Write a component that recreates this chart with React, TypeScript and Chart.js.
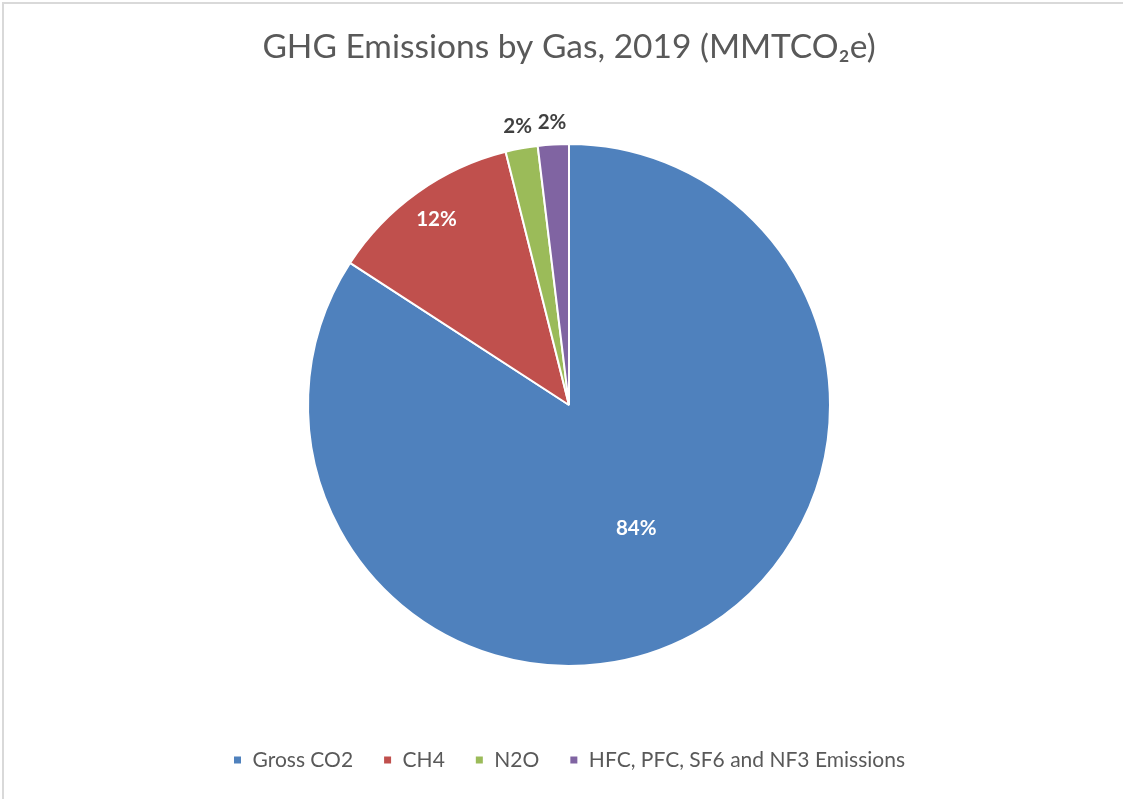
import React, { useEffect, useRef } from "react";
import { Chart, registerables } from "chart.js";

Chart.register(...registerables);

const categories = ["Gross CO2", "CH4", "N2O", "HFC, PFC, SF6 and NF3 Emissions"];
const emissions = [55.0, 7.8, 1.3, 1.25];
const sliceColors = ["#4F81BD", "#C0504D", "#9BBB59", "#8064A2"];
const labelColors = ["#FFFFFF", "#FFFFFF", "#404040", "#404040"];
const labelRadiusFactors = [0.54, 0.874, 1.084, 1.084];
const chartTitle = "GHG Emissions by Gas, 2019 (MMTCO\u2082e)";

const FONT = "Lato, 'Open Sans', sans-serif";

const pieLabels = {
  id: "pieLabels",
  afterDatasetsDraw(chart: any) {
    const ctx = chart.ctx;
    const meta = chart.getDatasetMeta(0);
    const data = chart.data.datasets[0].data as number[];
    const total = data.reduce((a, b) => a + b, 0);
    ctx.save();
    ctx.font = `bold 20.5px ${FONT}`;
    ctx.textAlign = "center";
    ctx.textBaseline = "middle";
    meta.data.forEach((arc: any, i: number) => {
      const p = arc.getProps(["x", "y", "startAngle", "endAngle", "outerRadius"], true);
      const mid = (p.startAngle + p.endAngle) / 2;
      const r = p.outerRadius * labelRadiusFactors[i];
      const x = p.x + Math.cos(mid) * r;
      const y = p.y + Math.sin(mid) * r;
      ctx.fillStyle = labelColors[i];
      ctx.fillText(Math.round((data[i] / total) * 100) + "%", x, y);
    });
    ctx.restore();
  },
};

export default function App() {
  const canvasRef = useRef<HTMLCanvasElement | null>(null);

  useEffect(() => {
    document.body.style.margin = "0";
    document.body.style.overflow = "hidden";
    const chart = new Chart(canvasRef.current as HTMLCanvasElement, {
      type: "pie",
      data: {
        labels: categories,
        datasets: [
          {
            data: emissions,
            backgroundColor: sliceColors,
            borderColor: "#FFFFFF",
            borderWidth: 2,
            hoverOffset: 0,
          },
        ],
      },
      options: {
        animation: false,
        responsive: true,
        maintainAspectRatio: false,
        layout: { padding: { top: 0, left: 15, right: 0, bottom: 18.5 } },
        plugins: {
          title: {
            display: true,
            text: chartTitle,
            color: "#595959",
            font: { family: FONT, size: 33.5, weight: "normal" },
            padding: { top: 27, bottom: 75.8 },
          },
          legend: {
            display: true,
            position: "bottom",
            title: {
              display: true,
              text: "",
              font: { size: 1 },
              padding: { top: 51.3, bottom: 0 },
            },
            labels: {
              boxWidth: 9,
              boxHeight: 9,
              padding: 30,
              color: "#595959",
              font: { family: FONT, size: 21 },
            },
          },
          tooltip: { enabled: false },
        },
      },
      plugins: [pieLabels],
    });
    return () => chart.destroy();
  }, []);

  return (
    <div style={{ position: "relative", width: 1123, height: 799, overflow: "hidden", background: "#fff" }}>
      <div
        style={{
          position: "absolute",
          left: 2,
          top: 2,
          width: 1200,
          height: 900,
          border: "2px solid #D9D9D9",
        }}
      />
      <div style={{ position: "absolute", left: 0, top: 0, width: 1123, height: 799 }}>
        <canvas ref={canvasRef} />
      </div>
    </div>
  );
}
